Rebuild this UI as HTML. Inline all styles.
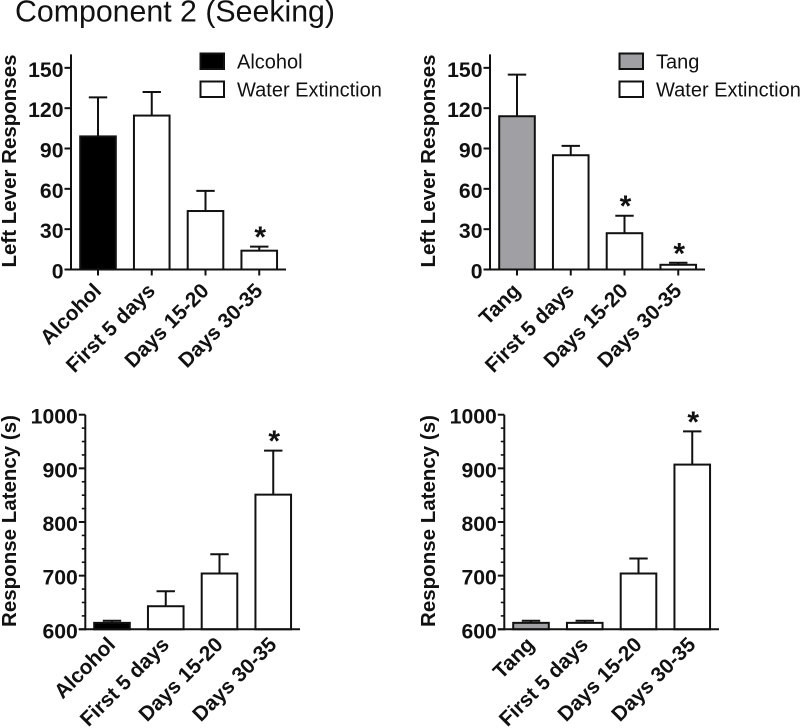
<!DOCTYPE html>
<html>
<head>
<meta charset="utf-8">
<title>Component 2 (Seeking)</title>
<style>
html,body{margin:0;padding:0;background:#fff;}
#wrap{position:relative;width:800px;height:728px;overflow:hidden;background:#fff;}
svg{display:block;position:absolute;left:0;top:0;filter:blur(0.3px);}
text{font-family:"Liberation Sans",Arial,sans-serif;fill:#111;}
</style>
</head>
<body>
<div id="wrap">
<svg id="fig" width="800" height="728" viewBox="0 0 800 728" xmlns="http://www.w3.org/2000/svg">
<text x="15" y="21.5" font-size="30.3" fill="#111">Component 2 (Seeking)</text>
</svg>
</div>
<script>
var alcoholCategories = ['Alcohol', 'First 5 days', 'Days 15-20', 'Days 30-35'];
var tangCategories = ['Tang', 'First 5 days', 'Days 15-20', 'Days 30-35'];

var responseTicks = [0, 30, 60, 90, 120, 150];
var latencyTicks = [600, 700, 800, 900, 1000];

var alcoholResponses = [99, 114.5, 43.5, 14];
var alcoholResponsesError = [128, 132, 58.5, 17];
var alcoholResponsesStars = [false, false, false, true];

var tangResponses = [114, 85, 27, 3.5];
var tangResponsesError = [145, 92, 40, 5];
var tangResponsesStars = [false, false, true, true];

var alcoholLatency = [612, 643, 704, 851];
var alcoholLatencyError = [616, 671, 740, 933];
var alcoholLatencyStars = [false, false, false, true];

var tangLatency = [612, 612, 704, 907];
var tangLatencyError = [616, 616, 732, 969];
var tangLatencyStars = [false, false, false, true];

var alcoholLegend = ['Alcohol', 'Water Extinction'];
var tangLegend = ['Tang', 'Water Extinction'];

var SVGNS = 'http://www.w3.org/2000/svg';
var svg = document.getElementById('fig');
var INK = '#111';
var SW = 2;

function mk(tag, parent, attrs) {
  var el = document.createElementNS(SVGNS, tag);
  for (var k in attrs) el.setAttribute(k, attrs[k]);
  parent.appendChild(el);
  return el;
}

function drawPanel(p) {
  var g = mk('g', svg, {});
  
  

  function yScale(v) { return p.y0 + (v - p.vMin) * (p.yTop - p.y0) / (p.vMax - p.vMin); }
  function xScale(i) { return p.x0 + i * 53.75; }

  var i, el;
  // bars
  for (i = 0; i < p.values.length; i++) {
    var cx = xScale(i);
    var top = yScale(p.values[i]);
    var errTop = yScale(p.errors[i]);
    el = mk('line', g, {x1: cx, x2: cx, y1: top, y2: errTop, stroke: INK, 'stroke-width': SW});
    
    
    el = mk('line', g, {x1: cx - 9.2, x2: cx + 9.2, y1: errTop, y2: errTop, stroke: INK, 'stroke-width': SW});
    
    
    el = mk('rect', g, {x: cx - 17.8, y: top, width: 35.6, height: p.y0 - top, fill: i === 0 ? p.firstFill : '#fff', stroke: INK, 'stroke-width': SW});
    
    
    if (p.stars[i]) {
      el = mk('text', g, {x: cx + 1, y: errTop + 0.5, 'font-size': 30, 'text-anchor': 'middle', 'font-weight': 'bold'});
      el.textContent = '*';
      
      
    }
  }

  // y axis
  el = mk('line', g, {x1: p.axisX, x2: p.axisX, y1: p.y0 + 1, y2: yScale(p.vMax), stroke: INK, 'stroke-width': SW});
  
  

  // x axis
  el = mk('line', g, {x1: p.axisX - (p.xAxisLeft), x2: p.axisEnd, y1: p.y0, y2: p.y0, stroke: INK, 'stroke-width': SW});
  
  

  // y ticks
  for (i = 0; i < p.ticks.length; i++) {
    var ty = yScale(p.ticks[i]);
    el = mk('line', g, {x1: p.axisX - 6.5, x2: p.axisX, y1: ty, y2: ty, stroke: INK, 'stroke-width': SW});
    
    
    el = mk('text', g, {x: p.axisX - 7.5, y: ty + 9, 'font-size': 21.2, 'font-weight': 'bold', 'text-anchor': 'end'});
    el.textContent = p.ticks[i];
    
    
  }

  // minor ticks
  if (p.minorStep) {
    for (var v = p.vMin; v < p.vMax; v += p.minorStep) {
      if ((v - p.vMin) % (p.minorStep * 4) === 0) continue;
      var my = yScale(v);
      el = mk('line', g, {x1: p.axisX - 3.5, x2: p.axisX, y1: my, y2: my, stroke: INK, 'stroke-width': 1.6});
      
      
    }
  }

  // x ticks and labels
  for (i = 0; i < p.categories.length; i++) {
    var tx = xScale(i);
    if (p.xTicks) {
      el = mk('line', g, {x1: tx, x2: tx, y1: p.y0, y2: p.y0 + 6, stroke: INK, 'stroke-width': SW});
      
      
    }
    var lx = tx + 4.5;
    var ly = p.y0 + p.labelDy;
    el = mk('text', g, {x: lx, y: ly, 'font-size': 20.8, 'font-weight': 'bold', 'text-anchor': 'end', transform: 'rotate(-45 ' + lx + ' ' + ly + ')'});
    el.textContent = p.categories[i];
    
    
  }

  // y title
  el = mk('text', g, {x: p.titleX, y: p.titleY, 'font-size': 20.5, 'font-weight': 'bold', 'text-anchor': 'middle', transform: 'rotate(-90 ' + p.titleX + ' ' + p.titleY + ')'});
  el.textContent = p.yTitle;
  
  

  // legend
  if (p.legend) {
    for (i = 0; i < p.legend.length; i++) {
      var ly2 = 53.5 + i * 28;
      el = mk('rect', g, {x: p.legendX, y: ly2, width: 23.5, height: 15.5, fill: i === 0 ? p.firstFill : '#fff', stroke: INK, 'stroke-width': SW});
      
      
      el = mk('text', g, {x: p.legendX + 36.5, y: ly2 + 14.8, 'font-size': 20});
      el.textContent = p.legend[i];
      
      
    }
  }
}

drawPanel({name: 'alcohol-responses-panel', categories: alcoholCategories, values: alcoholResponses, errors: alcoholResponsesError, stars: alcoholResponsesStars, ticks: responseTicks, vMin: 0, vMax: 160, y0: 269.5, yTop: 54.4, axisX: 71, axisEnd: 286, xAxisLeft: 6, x0: 98, firstFill: '#000', xTicks: true, labelDy: 22.5, titleX: 16, titleY: 161, yTitle: 'Left Lever Responses', legend: alcoholLegend, legendX: 200.5});

drawPanel({name: 'tang-responses-panel', categories: tangCategories, values: tangResponses, errors: tangResponsesError, stars: tangResponsesStars, ticks: responseTicks, vMin: 0, vMax: 160, y0: 269.5, yTop: 54.4, axisX: 490, axisEnd: 705, xAxisLeft: 6, x0: 517, firstFill: '#a0a0a4', xTicks: true, labelDy: 22.5, titleX: 435, titleY: 161, yTitle: 'Left Lever Responses', legend: tangLegend, legendX: 619.5});

drawPanel({name: 'alcohol-latency-panel', categories: alcoholCategories, values: alcoholLatency, errors: alcoholLatencyError, stars: alcoholLatencyStars, ticks: latencyTicks, vMin: 600, vMax: 1000, minorStep: 25, y0: 629.3, yTop: 414.7, axisX: 85.3, axisEnd: 300, xAxisLeft: 6.5, x0: 112, firstFill: '#000', xTicks: false, labelDy: 16.5, titleX: 16, titleY: 521, yTitle: 'Response Latency (s)'});

drawPanel({name: 'tang-latency-panel', categories: tangCategories, values: tangLatency, errors: tangLatencyError, stars: tangLatencyStars, ticks: latencyTicks, vMin: 600, vMax: 1000, minorStep: 25, y0: 629.3, yTop: 414.7, axisX: 504.3, axisEnd: 719, xAxisLeft: 6.5, x0: 531, firstFill: '#a0a0a4', xTicks: false, labelDy: 16.5, titleX: 435, titleY: 521, yTitle: 'Response Latency (s)'});
</script>
</body>
</html>
